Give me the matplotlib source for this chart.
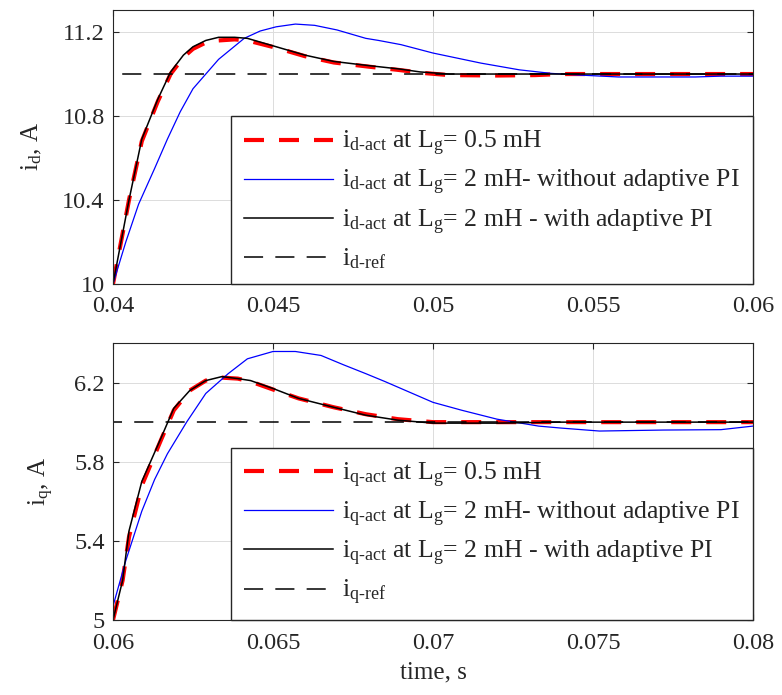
import matplotlib
matplotlib.use('Agg')
import matplotlib.pyplot as plt

plt.rcParams['font.family'] = ['Liberation Serif', 'DejaVu Serif']
plt.rcParams['mathtext.fontset'] = 'custom'
plt.rcParams['mathtext.rm'] = 'Liberation Serif'
plt.rcParams['mathtext.it'] = 'Liberation Serif:italic'

# d-axis current, Lg = 0.5 mH
t_d05 = [0.0400, 0.0402, 0.0405, 0.0409, 0.0414, 0.0418, 0.0422, 0.0425, 0.0429, 0.0433,
         0.0438, 0.0442, 0.0451, 0.0460, 0.0469, 0.0480, 0.0489, 0.0497, 0.0505, 0.0520,
         0.0532, 0.0540, 0.0600]
id_05 = [10.00, 10.16, 10.40, 10.68, 10.87, 11.00, 11.08, 11.12, 11.15, 11.16,
         11.165, 11.16, 11.125, 11.085, 11.055, 11.035, 11.02, 11.005, 10.995, 10.993,
         10.995, 11.0, 11.0]
# d-axis current, Lg = 2 mH, without adaptive PI
t_d2 = [0.0400, 0.0404, 0.0408, 0.0413, 0.0417, 0.0421, 0.0425, 0.0429, 0.0433, 0.0437,
        0.0441, 0.0446, 0.0451, 0.0457, 0.0463, 0.0470, 0.0479, 0.0483, 0.0490, 0.0500,
        0.0515, 0.0527, 0.0537, 0.0546, 0.0558, 0.0582, 0.0590, 0.0600]
id_2 = [10.00, 10.20, 10.38, 10.55, 10.69, 10.82, 10.93, 11.00, 11.07, 11.12,
        11.17, 11.205, 11.225, 11.238, 11.232, 11.21, 11.17, 11.16, 11.14, 11.10,
        11.052, 11.02, 11.003, 10.995, 10.986, 10.986, 10.99, 10.99]
# d-axis current, Lg = 2 mH, with adaptive PI
t_d2a = [0.0400, 0.0402, 0.0405, 0.0409, 0.0414, 0.0418, 0.0422, 0.0425, 0.0429, 0.0433,
         0.0438, 0.0442, 0.0451, 0.0460, 0.0469, 0.0480, 0.0489, 0.0496, 0.0505, 0.0600]
id_2a = [10.00, 10.16, 10.40, 10.69, 10.88, 11.01, 11.09, 11.13, 11.16, 11.175,
         11.175, 11.17, 11.13, 11.09, 11.06, 11.04, 11.025, 11.01, 11.0, 11.0]
t_dref = [0.04, 0.04, 0.06]
id_ref = [10.0, 11.0, 11.0]

# q-axis current, Lg = 0.5 mH
t_q05 = [0.0600, 0.0603, 0.0605, 0.0609, 0.0615, 0.0619, 0.0624, 0.0629, 0.0634, 0.0639,
         0.0643, 0.0650, 0.0658, 0.0669, 0.0679, 0.0689, 0.0700, 0.0720, 0.0740, 0.0800]
iq_05 = [5.00, 5.20, 5.42, 5.68, 5.91, 6.06, 6.16, 6.21, 6.225, 6.22,
         6.205, 6.165, 6.12, 6.075, 6.04, 6.015, 6.0, 6.0, 6.0, 6.0]
# q-axis current, Lg = 2 mH, without adaptive PI
t_q2 = [0.0600, 0.0604, 0.0609, 0.0613, 0.0617, 0.0623, 0.0629, 0.0636, 0.0642, 0.0650,
        0.0657, 0.0665, 0.0672, 0.0679, 0.0685, 0.0690, 0.0700, 0.0709, 0.0720, 0.0733,
        0.0740, 0.0752, 0.0772, 0.0790, 0.0800]
iq_2 = [5.07, 5.30, 5.55, 5.71, 5.84, 6.00, 6.145, 6.245, 6.32, 6.357,
        6.357, 6.337, 6.29, 6.245, 6.205, 6.17, 6.10, 6.06, 6.015, 5.98,
        5.97, 5.955, 5.96, 5.962, 5.98]
# q-axis current, Lg = 2 mH, with adaptive PI
t_q2a = [0.0600, 0.0603, 0.0605, 0.0609, 0.0615, 0.0619, 0.0624, 0.0629, 0.0634, 0.0639,
         0.0643, 0.0650, 0.0658, 0.0669, 0.0679, 0.0689, 0.0700, 0.0720, 0.0740, 0.0800]
iq_2a = [5.00, 5.20, 5.45, 5.70, 5.92, 6.07, 6.16, 6.21, 6.23, 6.22,
         6.21, 6.17, 6.12, 6.075, 6.035, 6.01, 5.995, 5.995, 6.0, 6.0]
t_qref = [0.06, 0.06, 0.08]
iq_ref = [5.0, 6.0, 6.0]

txt = '#262626'
fig = plt.figure(figsize=(7.82, 6.95), dpi=100)
ax1 = fig.add_axes([0.1445, 0.5914, 0.8184, 0.3942])
ax2 = fig.add_axes([0.1445, 0.1079, 0.8184, 0.3986])


def draw(ax, s, t05, v05, t2, v2, t2a, v2a, tref, vref):
    sub = r'$_{\mathregular{' + s + r'\text{-}act}}$'
    ax.plot(t05, v05, color='red', lw=3, dashes=(4.8, 3.6),
            label='i' + sub + r' at L$_\mathregular{g}$= 0.5 mH')
    ax.plot(t2, v2, color='blue', lw=0.9,
            label='i' + sub + r' at L$_\mathregular{g}$= 2 mH- without adaptive PI')
    ax.plot(t2a, v2a, color='black', lw=1.1,
            label='i' + sub + r' at L$_\mathregular{g}$= 2 mH - with adaptive PI')
    ax.plot(tref, vref, color='black', lw=1.1, dashes=(12.5, 8),
            label='i' + r'$_{\mathregular{' + s + r'\text{-}ref}}$')
    ax.grid(True, color='#dcdcdc', lw=0.7)
    ax.tick_params(direction='in', top=True, right=True, labelsize=17.5,
                   colors=txt, length=4)
    ax.tick_params(axis='x', pad=9)
    ax.tick_params(axis='y', pad=6)
    for sp in ax.spines.values():
        sp.set_color(txt)
    leg = ax.legend(loc='lower right', bbox_to_anchor=(1, 0), borderaxespad=0,
                    fontsize=18.5, handlelength=3.5, handletextpad=0.35,
                    labelspacing=0.39, fancybox=False, framealpha=1,
                    edgecolor=txt, borderpad=0.5)
    for tx in leg.get_texts():
        tx.set_color(txt)
    leg.get_frame().set_linewidth(1.0)


draw(ax1, 'd', t_d05, id_05, t_d2, id_2, t_d2a, id_2a, t_dref, id_ref)
draw(ax2, 'q', t_q05, iq_05, t_q2, iq_2, t_q2a, iq_2a, t_qref, iq_ref)

ax1.set_xlim(0.04, 0.06)
ax1.set_ylim(10, 11.305)
ax1.set_xticks([0.04, 0.045, 0.05, 0.055, 0.06])
ax1.set_xticklabels(['0.04', '0.045', '0.05', '0.055', '0.06'])
ax1.set_yticks([10, 10.4, 10.8, 11.2])
ax1.set_yticklabels(['10', '10.4', '10.8', '11.2'])
ax1.set_ylabel(r'i$_\mathregular{d}$, A', fontsize=18, color=txt, labelpad=13)

ax2.set_xlim(0.06, 0.08)
ax2.set_ylim(5, 6.4)
ax2.set_xticks([0.06, 0.065, 0.07, 0.075, 0.08])
ax2.set_xticklabels(['0.06', '0.065', '0.07', '0.075', '0.08'])
ax2.set_yticks([5, 5.4, 5.8, 6.2])
ax2.set_yticklabels(['5', '5.4', '5.8', '6.2'])
ax2.set_ylabel(r'i$_\mathregular{q}$, A', fontsize=18, color=txt, labelpad=13)
ax2.set_xlabel('time, s', fontsize=18, color=txt, labelpad=6)

fig.savefig('out.png', dpi=100)
